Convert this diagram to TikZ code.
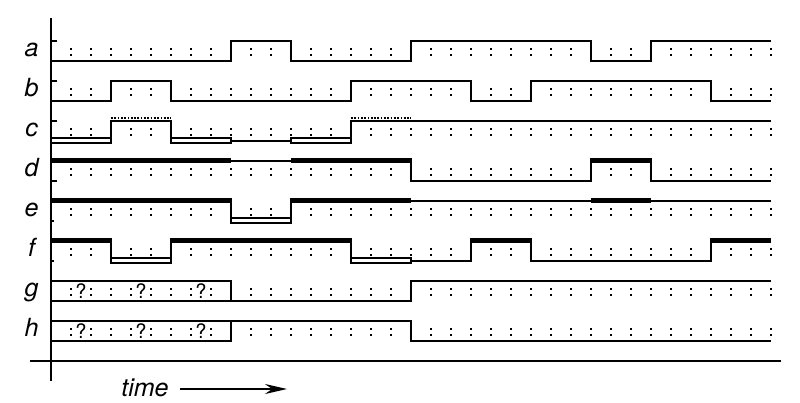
\documentclass[tikz,border=0pt]{standalone}
\usepackage{fontspec}
\setmainfont{TeX Gyre Heros}
\usetikzlibrary{arrows.meta}
\begin{document}
\begin{tikzpicture}[x=1pt,y=-1pt,
  sig/.style={line width=2pt, line join=miter, line cap=butt},
  thk/.style={line width=5.6pt, line cap=butt},
  dotl/.style={line width=2pt, dash pattern=on 1.7pt off 1.6pt},
  axis/.style={line width=2.3pt},
  lbl/.style={font=\fontsize{25}{30}\selectfont\itshape, anchor=base, inner sep=0pt},
  qm/.style={font=\fontsize{20}{24}\selectfont, anchor=base, fill=white, inner sep=0.5pt},
  dot/.style={fill=black}]
\fill[white] (0,0) rectangle (800,402);
\useasboundingbox (0,0) rectangle (800,402);
% colon grid
\foreach \H in {40.5,80.5,120.5,160.5,200.5,240.5,280.5,320.5}{
  \foreach \x in {71,91,...,771}{
    \fill[dot] (\x-1,\H+7.5) rectangle (\x+1,\H+9.5);
    \fill[dot] (\x-1,\H+13) rectangle (\x+1,\H+15);
  }
}
% axes
\draw[axis] (51,18) -- (51,381);
\draw[axis] (30,361) -- (781,361);
% ticks
\foreach \y in {40.5,80.5,120.5,180.5}{\draw[sig] (51,\y) -- (56.5,\y);}
\foreach \y in {220.5,260.5}{\draw[sig] (51,\y) -- (53.5,\y);}
% labels
\node[lbl] (la) at (31.5,56) {a};
\node[lbl] (lb) at (31.5,96) {b};
\node[lbl] (lc) at (31.5,136) {c};
\node[lbl] (ld) at (31.5,176) {d};
\node[lbl] (le) at (31.5,216) {e};
\node[lbl] (lf) at (31.5,256) {f};
\node[lbl] (lg) at (31.5,296) {g};
\node[lbl] (lh) at (31.5,336) {h};
% row a
\draw[sig] (51,60.5) -- (231,60.5) -- (231,40.5) -- (291,40.5) -- (291,60.5) -- (411,60.5) -- (411,40.5) -- (591,40.5) -- (591,60.5) -- (651,60.5) -- (651,40.5) -- (771,40.5);
% row b
\draw[sig] (51,100.5) -- (111,100.5) -- (111,80.5) -- (171,80.5) -- (171,100.5) -- (351,100.5) -- (351,80.5) -- (471,80.5) -- (471,100.5) -- (531,100.5) -- (531,80.5) -- (711,80.5) -- (711,100.5) -- (771,100.5);
% row c
\draw[sig] (51,138.3) rectangle (111,142.7);
\draw[sig] (171,138.3) rectangle (231,142.7);
\draw[sig] (291,138.3) rectangle (351,142.7);
\draw[sig] (231,140.5) -- (291,140.5);
\draw[sig] (111,142.7) -- (111,120.5) -- (171,120.5) -- (171,142.7);
\draw[sig] (351,142.7) -- (351,120.5) -- (771,120.5);
\draw[dotl] (111,118) -- (171,118);
\draw[dotl] (351,118) -- (411,118);
% row d
\draw[thk] (51,160.5) -- (231,160.5);
\draw[thk] (291,160.5) -- (411,160.5);
\draw[thk] (591,160.5) -- (651,160.5);
\draw[sig] (231,160.5) -- (291,160.5);
\draw[sig] (411,158) -- (411,180.5) -- (591,180.5) -- (591,158);
\draw[sig] (651,158) -- (651,180.5) -- (771,180.5);
% row e
\draw[thk] (51,200.5) -- (231,200.5);
\draw[sig] (231,198) -- (231,218.3);
\draw[sig] (231,218.3) rectangle (291,222.7);
\draw[sig] (291,218.3) -- (291,198);
\draw[thk] (291,200.5) -- (411,200.5);
\draw[sig] (411,200.5) -- (591,200.5);
\draw[thk] (591,200.5) -- (651,200.5);
\draw[sig] (651,200.5) -- (771,200.5);
% row f
\draw[thk] (51,240.5) -- (111,240.5);
\draw[sig] (111,238) -- (111,258.3);
\draw[sig] (111,258.3) rectangle (171,262.7);
\draw[sig] (171,258.3) -- (171,238);
\draw[thk] (171,240.5) -- (351,240.5);
\draw[sig] (351,238) -- (351,258.3);
\draw[sig] (351,258.3) rectangle (411,262.7);
\draw[sig] (411,260.5) -- (471,260.5) -- (471,238);
\draw[thk] (471,240.5) -- (531,240.5);
\draw[sig] (531,238) -- (531,260.5) -- (711,260.5) -- (711,238);
\draw[thk] (711,240.5) -- (771,240.5);
% row g
\draw[sig] (51,280.5) -- (231,280.5) -- (231,300.5);
\draw[sig] (51,300.5) -- (411,300.5) -- (411,280.5) -- (771,280.5);
% row h
\draw[sig] (51,340.5) -- (231,340.5) -- (231,320.5);
\draw[sig] (51,320.5) -- (411,320.5) -- (411,340.5) -- (771,340.5);
% question marks
\node[qm] (g1) at (81,298) {?};
\node[qm] (g2) at (141,298) {?};
\node[qm] (g3) at (201,298) {?};
\node[qm] (h1) at (81,338) {?};
\node[qm] (h2) at (141,338) {?};
\node[qm] (h3) at (201,338) {?};
% time arrow
\node[lbl] (time) at (145,396.5) {time};
\coordinate (ts) at (180,389);
\coordinate (te) at (287,389);
\draw[line width=2pt, -{Stealth[length=22pt,width=10pt]}] (ts) -- (te);
\end{tikzpicture}
\end{document}
